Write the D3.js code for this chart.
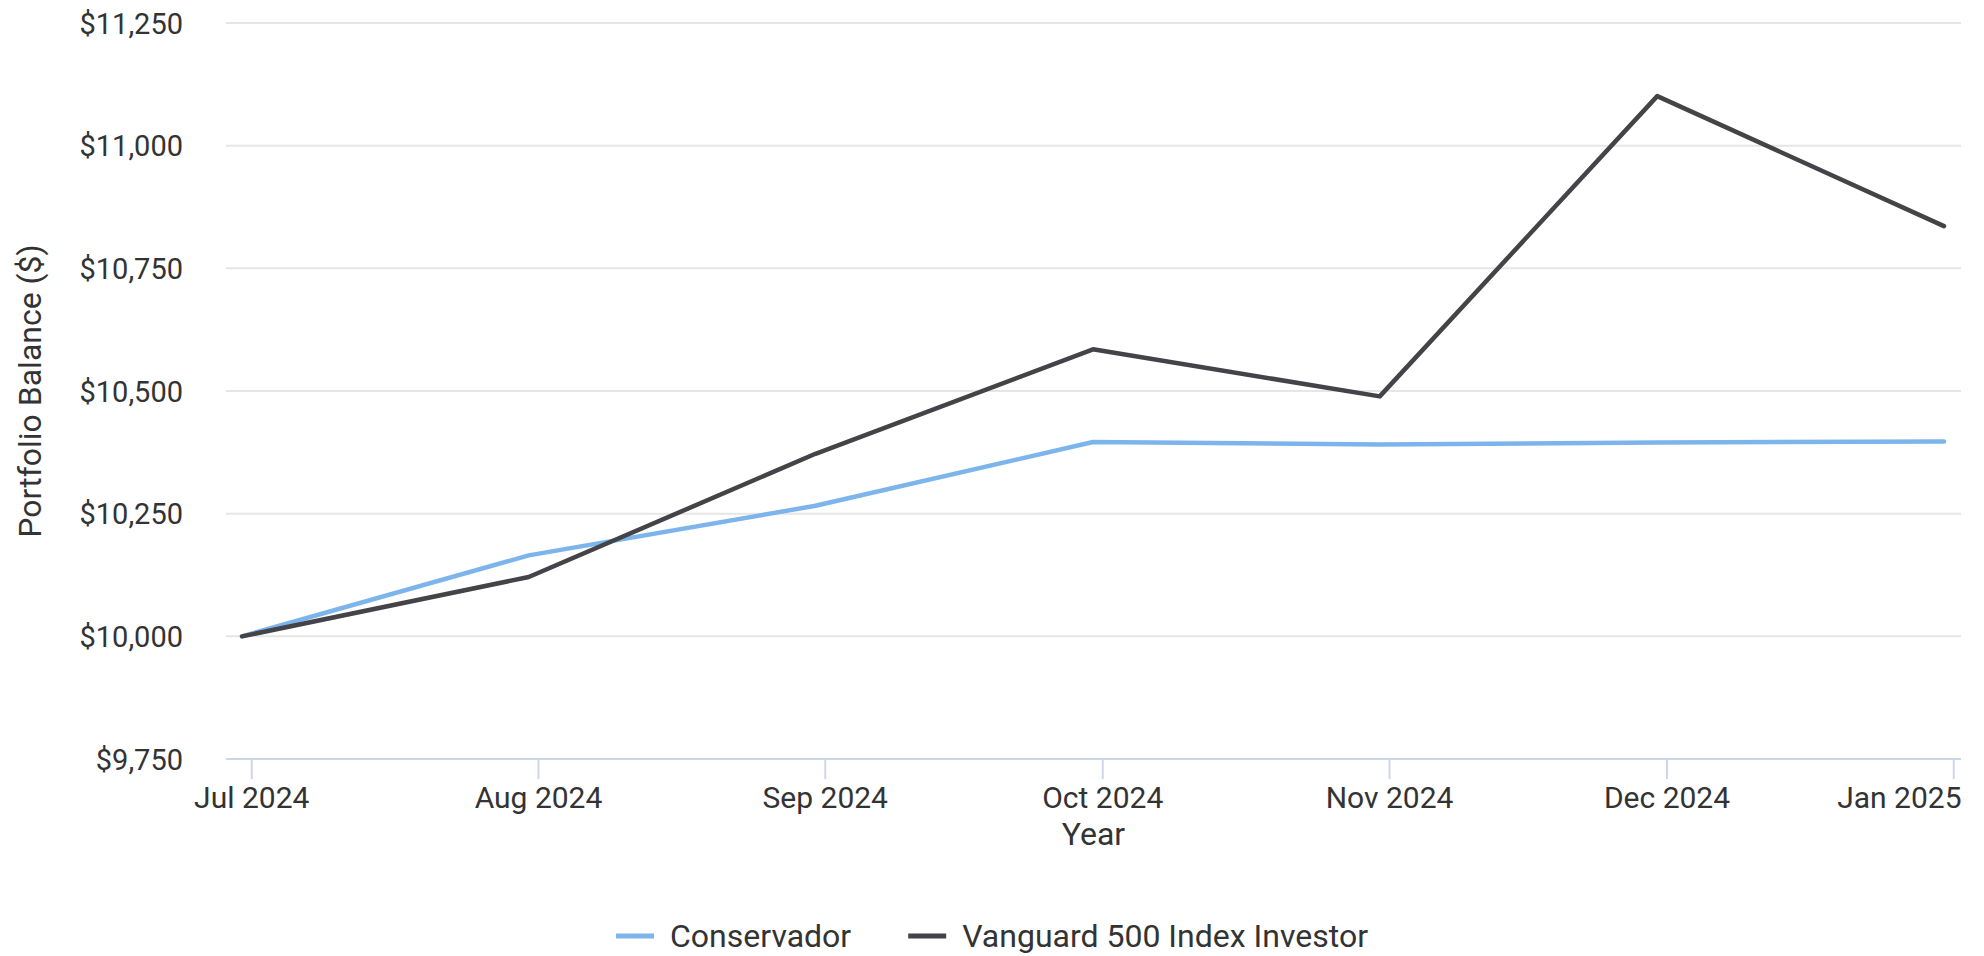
<!DOCTYPE html>
<html>
<head>
<meta charset="utf-8">
<script src="https://cdn.jsdelivr.net/npm/d3@7"></script>
<style>
  html, body { margin: 0; padding: 0; background: #ffffff; }
  svg { display: block; font-family: Roboto, "Noto Sans", sans-serif; }
</style>
</head>
<body>
<svg id="chart" width="1984" height="956"></svg>
<script>
// ---- data ----
const dates = ["2024-06-30", "2024-07-31", "2024-08-31", "2024-09-30", "2024-10-31", "2024-11-30", "2024-12-31"];
const conservador = [10000, 10165, 10266, 10396, 10391, 10395, 10397];
const vanguard = [10000, 10121, 10372, 10585, 10489, 11101, 10836];
const seriesNames = ["Conservador", "Vanguard 500 Index Investor"];
const seriesColors = ["#7cb5ec", "#434348"];
const yTicks = [9750, 10000, 10250, 10500, 10750, 11000, 11250];
const xTickDates = ["2024-07-01", "2024-08-01", "2024-09-01", "2024-10-01", "2024-11-01", "2024-12-01", "2025-01-01"];
const yTitle = "Portfolio Balance ($)";
const xTitle = "Year";

// ---- setup ----
const parse = d3.utcParse("%Y-%m-%d");
const svg = d3.select("#chart");
const plotLeft = 226, plotRight = 1961, plotTop = 23, plotBottom = 759, pad = 16;

const x = d3.scaleUtc()
  .domain([parse(dates[0]), parse(dates[dates.length - 1])])
  .range([plotLeft + pad, plotRight - pad - 1]);
const y = d3.scaleLinear().domain([9750, 11250]).range([plotBottom, plotTop]);

// gridlines
svg.append("g").selectAll("line").data(yTicks.filter(v => v !== 9750)).join("line")
  .attr("x1", plotLeft).attr("x2", plotRight)
  .attr("y1", d => y(d)).attr("y2", d => y(d))
  .attr("stroke", "#e6e6e6").attr("stroke-width", 2);

// y axis labels
const fmt = d3.format("$,");
const yAxis = d3.axisLeft(y).tickValues(yTicks).tickFormat(d => fmt(d)).tickSize(0).tickPadding(0);
const gy = svg.append("g").attr("transform", `translate(${183},0)`).call(yAxis);
gy.select(".domain").remove();
gy.selectAll("text").attr("font-size", 29).attr("fill", "#333333")
  .attr("font-family", "Roboto, sans-serif").attr("dy", "0.35em");

// x axis
const xAxis = d3.axisBottom(x).tickValues(xTickDates.map(parse))
  .tickFormat(d3.utcFormat("%b %Y")).tickSize(20).tickPadding(8);
const gx = svg.append("g").attr("transform", `translate(0,${plotBottom})`).call(xAxis);
gx.select(".domain").remove();
gx.selectAll(".tick line").attr("stroke", "#ccd6eb").attr("stroke-width", 2);
gx.selectAll("text").attr("font-size", 30).attr("fill", "#333333")
  .attr("font-family", "Roboto, sans-serif");
// keep the last label inside the plot, as the reference does
gx.selectAll(".tick").filter((d, i, n) => i === n.length - 1).select("text")
  .attr("text-anchor", "end").attr("x", plotRight - x(parse(xTickDates[xTickDates.length - 1])));
svg.append("line").attr("x1", plotLeft).attr("x2", plotRight)
  .attr("y1", plotBottom).attr("y2", plotBottom)
  .attr("stroke", "#ccd6eb").attr("stroke-width", 2);

// titles
svg.append("text").attr("x", (plotLeft + plotRight) / 2).attr("y", 845)
  .attr("text-anchor", "middle").attr("font-size", 32).attr("fill", "#333333").text(xTitle);
svg.append("text").attr("transform", `translate(41,${(plotTop + plotBottom) / 2}) rotate(-90)`)
  .attr("text-anchor", "middle").attr("font-size", 32).attr("fill", "#333333").text(yTitle);

// lines
const lineGen = d3.line().x(d => x(d[0])).y(d => y(d[1]));
[conservador, vanguard].forEach((vals, i) => {
  const pts = dates.map((d, j) => [parse(d), vals[j]]);
  svg.append("path").datum(pts).attr("d", lineGen)
    .attr("fill", "none").attr("stroke", seriesColors[i]).attr("stroke-width", 4.5)
    .attr("stroke-linejoin", "round").attr("stroke-linecap", "round");
});

// legend
const legend = svg.append("g");
let cx = 0;
seriesNames.forEach((name, i) => {
  const g = legend.append("g").attr("transform", `translate(${cx},0)`);
  g.append("line").attr("x1", 0).attr("x2", 38).attr("y1", 0).attr("y2", 0)
    .attr("stroke", seriesColors[i]).attr("stroke-width", 5);
  const t = g.append("text").attr("x", 54).attr("y", 0).attr("dy", "0.35em")
    .attr("font-size", 32).attr("fill", "#333333").text(name);
  const w = t.node().getComputedTextLength();
  cx += 54 + w + 57;
});
const totalW = cx - 57;
legend.attr("transform", `translate(${992 - totalW / 2},936)`);
</script>
</body>
</html>
